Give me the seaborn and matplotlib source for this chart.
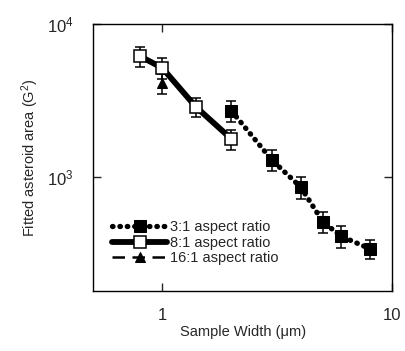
import pandas as pd
import seaborn as sns
import matplotlib.pyplot as plt
import numpy as np

sns.set_style('ticks')
plt.rcParams['font.family'] = ['Liberation Sans', 'DejaVu Sans']
plt.rcParams['mathtext.fontset'] = 'custom'
plt.rcParams['mathtext.rm'] = 'Liberation Sans'
plt.rcParams['mathtext.it'] = 'Liberation Sans:italic'
plt.rcParams['mathtext.bf'] = 'Liberation Sans:bold'

# 3:1 aspect ratio
w31 = [2.0, 3.0, 4.0, 5.0, 6.0, 8.0]
a31 = [2700, 1290, 860, 510, 410, 340]
e31 = [420, 200, 140, 80, 65, 50]
# 8:1 aspect ratio
w81 = [0.8, 1.0, 1.4, 2.0]
a81 = [6150, 5150, 2870, 1770]
e81 = [950, 800, 420, 270]
# 16:1 aspect ratio
w161 = [1.0]
a161 = [4100]
e161 = [600]

df31 = pd.DataFrame({'w': w31, 'a': a31})
df81 = pd.DataFrame({'w': w81, 'a': a81})
df161 = pd.DataFrame({'w': w161, 'a': a161})

fig = plt.figure(figsize=(4.05, 3.51), dpi=100)
ax = fig.add_axes([0.23, 0.171, 0.738, 0.761])

for w, a, e in [(w31, a31, e31), (w81, a81, e81), (w161, a161, e161)]:
    ax.errorbar(w, a, yerr=e, fmt='none', ecolor='black', elinewidth=1.1,
                capsize=3.5, capthick=1.1)

sns.lineplot(data=df31, x='w', y='a', ax=ax, color='black', lw=3.8,
             linestyle=(0, (0.1, 1.3)), dash_capstyle='round',
             marker='s', markersize=8, markerfacecolor='black', markeredgecolor='black',
             label='3:1 aspect ratio')
sns.lineplot(data=df81, x='w', y='a', ax=ax, color='black', lw=4.2,
             marker='s', markersize=8, markerfacecolor='white', markeredgecolor='black',
             markeredgewidth=1.1, label='8:1 aspect ratio')
sns.lineplot(data=df161, x='w', y='a', ax=ax, color='black', lw=1.8,
             linestyle=(0, (5, 3)), marker='^', markersize=7.5,
             markerfacecolor='black', markeredgecolor='black', label='16:1 aspect ratio')

ax.set_xscale('log')
ax.set_yscale('log')
ax.set_xlim(0.5, 10)
ax.set_ylim(180, 10000)
ax.set_xticks([1, 10])
ax.set_xticklabels(['1', '10'])
ax.set_yticks([1000, 10000])
ax.set_yticklabels(['$10^3$', '$10^4$'])
ax.tick_params(which='major', direction='in', length=6, width=1, top=True, right=True,
               labelsize=12, pad=12)
ax.tick_params(which='minor', direction='in', length=0, top=True, right=True)
ax.tick_params(axis='y', pad=14)
for s in ax.spines.values():
    s.set_linewidth(1)
    s.set_color('black')

ax.set_xlabel('Sample Width (\u03bcm)', fontsize=10.5, labelpad=2)
ax.set_ylabel('Fitted asteroid area (G$^2$)', fontsize=10.5, labelpad=4)

ax.legend(loc='lower left', frameon=False, fontsize=10.5, handlelength=3.75,
          handletextpad=0.2, labelspacing=0.12, borderaxespad=0,
          bbox_to_anchor=(0.045, 0.074))

fig.savefig('out.png', dpi=100)
